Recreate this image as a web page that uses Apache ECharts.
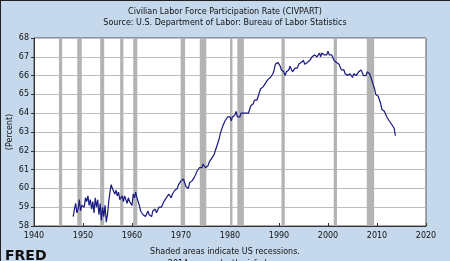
<!DOCTYPE html>
<html><head><meta charset="utf-8">
<script src="https://cdn.jsdelivr.net/npm/echarts@6/dist/echarts.min.js"></script>
<style>html,body{margin:0;padding:0;background:#c5d8ec}#c{width:450px;height:261px}</style>
</head><body><div id="c"></div>
<script>
var titleText = "Civilian Labor Force Participation Rate (CIVPART)";
var subText = "Source: U.S. Department of Labor: Bureau of Labor Statistics";
var yAxisName = "(Percent)";
var footText = "Shaded areas indicate US recessions.";
var footText2 = "2014 research.stlouisfed.org";
var startYear = 1948;
// quarterly values, 1948Q1 .. 2013Q4
var values = [
58.5,58.9,59.2,58.7, 58.9,59.4,58.8,59.1, 59.2,59.0,59.5,59.3, 59.6,59.1,59.4,58.9,
59.3,58.7,59.5,59.0, 59.4,58.6,59.2,58.3, 59.0,58.5,59.1,58.2, 58.6,59.3,59.8,60.2,
60.0,60.1,59.7,59.9, 59.6,59.8,59.4,59.5, 59.6,59.3,59.6,59.4, 59.2,59.5,59.3,59.4,
59.1,59.7,59.5,59.8, 59.5,59.3,59.1,58.8, 58.9,58.6,58.7,58.5, 58.6,58.8,58.6,58.7,
58.5,58.8,58.7,58.9, 58.7,58.8,59.0,58.9, 59.0,59.1,59.3,59.4, 59.5,59.4,59.7,59.8,
59.5,59.7,59.6,59.9, 59.9,60.0,60.2,60.3, 60.4,60.3,60.5,60.3, 60.1,60.2,60.0,60.3,
60.2,60.4,60.5,60.6, 60.7,60.9,60.8,61.1, 61.2,61.1,61.3,61.2, 61.1,61.2,61.2,61.4,
61.5,61.6,61.7,61.8, 62.0,62.2,62.4,62.6, 62.9,63.1,63.3,63.4, 63.6,63.5,63.8,63.9,
63.8,63.6,63.8,63.7, 63.9,64.1,63.8,63.9, 63.8,64.0,64.1,64.0, 63.9,64.0,64.1,64.0,
64.2,64.4,64.5,64.5, 64.7,64.8,64.7,64.9, 65.1,65.3,65.4,65.4, 65.5,65.6,65.7,65.8,
65.8,65.9,66.0,66.1, 66.3,66.6,66.5,66.7, 66.8,66.5,66.3,66.2, 66.2,66.0,66.2,66.1,
66.3,66.5,66.4,66.2, 66.2,66.4,66.3,66.4, 66.6,66.5,66.7,66.6, 66.8,66.6,66.5,66.7,
66.6,66.8,66.9,67.0, 67.0,67.1,67.2,67.0, 67.1,67.2,67.0,67.2, 67.2,67.1,67.0,67.1,
67.3,67.1,67.0,67.1, 67.2,66.8,66.8,66.7, 66.6,66.6,66.6,66.3, 66.3,66.3,66.1,66.0,
66.0,66.0,66.1,66.0, 65.9,66.1,66.1,66.0, 66.1,66.2,66.3,66.3, 66.3,66.0,66.0,66.0,
66.2,66.1,66.1,65.9, 65.7,65.7,65.3,65.0, 64.9,64.9,64.7,64.5, 64.2,64.1,64.1,64.0,
63.8,63.7,63.6,63.7, 63.4,63.4,63.2,62.8
];
var recessionStart = [1945.08, 1948.83, 1953.50, 1957.58, 1960.25, 1969.92, 1973.83, 1980.00, 1981.50, 1990.50, 2001.17, 2007.92];
var recessionEnd   = [1945.75, 1949.75, 1954.33, 1958.25, 1961.08, 1970.83, 1975.17, 1980.50, 1982.83, 1991.17, 2001.83, 2009.42];
var xTicks = [1940, 2020, 10];
var yTicks = [58, 68, 1];

var pts = values.map(function(v, i){ return [startYear + i/4, v]; });
var areas = recessionStart.map(function(s, i){ return [{xAxis: s}, {xAxis: recessionEnd[i]}]; });

var font = "DejaVu Sans";
var tc = '#111';
var chart = echarts.init(document.getElementById('c'), null, {renderer: 'canvas'});
chart.setOption({
  backgroundColor: '#c5d8ec',
  animation: false,
  textStyle: {fontFamily: font},
  title: [
    {text: titleText, left: 'center', top: 3, textStyle: {fontSize: 8, fontWeight: 'normal', color: tc, fontFamily: font}},
    {text: subText, left: 'center', top: 14, textStyle: {fontSize: 8, fontWeight: 'normal', color: tc, fontFamily: font}},
    {text: footText, left: 'center', top: 243, textStyle: {fontSize: 8, fontWeight: 'normal', color: tc, fontFamily: font}},
    {text: footText2, left: 'center', top: 255, textStyle: {fontSize: 8, fontWeight: 'normal', color: tc, fontFamily: font}}
  ],
  grid: {left: 34, right: 24, top: 38, bottom: 35, show: true, backgroundColor: '#ffffff', borderColor: '#555', borderWidth: 1, outerBoundsMode: 'none', containLabel: false},
  xAxis: {
    type: 'value', min: xTicks[0], max: xTicks[1], interval: xTicks[2],
    axisLine: {show: true, lineStyle: {color: '#333'}},
    axisTick: {show: true, inside: true, length: 3, lineStyle: {color: '#333'}},
    axisLabel: {fontSize: 8, color: tc, margin: 6, fontFamily: font, formatter: function(v){ return String(v); }},
    splitLine: {show: false}
  },
  yAxis: {
    type: 'value', min: yTicks[0], max: yTicks[1], interval: yTicks[2],
    name: yAxisName, nameLocation: 'middle', nameGap: 20, nameRotate: 90, nameMoveOverlap: false,
    nameTextStyle: {fontSize: 8, color: tc, fontFamily: font},
    axisLine: {show: true, lineStyle: {color: '#333'}},
    axisTick: {show: true, inside: false, length: 3, lineStyle: {color: '#333'}},
    axisLabel: {fontSize: 8, color: tc, margin: 5, fontFamily: font},
    splitLine: {show: true, lineStyle: {color: '#bdbdbd', width: 1}}
  },
  graphic: [
    {type: 'text', left: 5, top: 249, style: {text: 'FRED', fontSize: 14, fontWeight: 'bold', fill: '#111', fontFamily: font}},
    {type: 'line', shape: {x1: 0, y1: 0.5, x2: 450, y2: 0.5}, style: {stroke: '#222', lineWidth: 1}},
    {type: 'line', shape: {x1: 0.5, y1: 0, x2: 0.5, y2: 261}, style: {stroke: '#222', lineWidth: 1}}
  ],
  series: [{
    type: 'line', data: pts, showSymbol: false, symbol: 'none',
    lineStyle: {color: '#1a1a85', width: 1.2}, z: 3,
    markArea: {silent: true, itemStyle: {color: '#b3b3b3'}, data: areas}
  }]
});
</script></body></html>
